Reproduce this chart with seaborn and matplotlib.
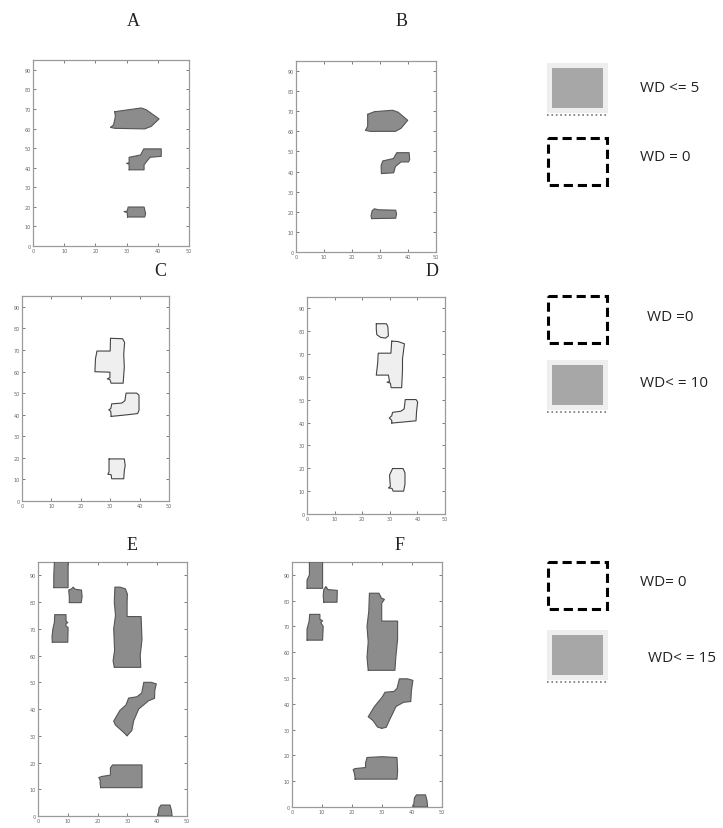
import matplotlib
matplotlib.use("Agg")
import matplotlib.pyplot as plt
from matplotlib.patches import Rectangle
import seaborn as sns

# panel titles and legend texts
panel_names = ["A", "B", "C", "D", "E", "F"]
legend_labels = ["WD <= 5", "WD = 0", "WD =0", "WD< = 10", "WD= 0", "WD< = 15"]

# region outlines (x, y)
a_blob = [(26.2, 68.6), (34.7, 70.5), (36.3, 69.6), (40.4, 64.9), (37.9, 61.1), (35.8, 59.8),
          (26.2, 60.1), (24.8, 60.6), (25.8, 61.8), (26.4, 66)]
a_step = [(30.8, 38.9), (35.6, 38.9), (35.6, 41.5), (37.5, 45.3), (41.1, 45.8), (41.1, 49.6),
          (35.5, 49.6), (34.5, 46.5), (30.8, 45.3), (30.8, 42.5), (30.0, 42.2), (30.8, 41.8)]
a_small = [(30.3, 14.8), (35.8, 14.8), (36.1, 16.5), (35.6, 19.9), (30.5, 19.9), (30.2, 17.8),
           (29.2, 17.6), (30.2, 17.0)]

b_blob = [(25.6, 68.5), (28, 69.8), (34.5, 70.5), (36.5, 69.5), (39.9, 65.5), (37.5, 61.5),
          (35.5, 60.0), (26.5, 60.0), (24.8, 60.5), (25.6, 62.5)]
b_step = [(30.5, 39), (34.9, 39.4), (35.5, 42.5), (37.5, 44.8), (40.2, 44.8), (40.6, 46),
          (40.4, 49.4), (36, 49.4), (34.8, 46.5), (31, 45.3), (30.4, 43)]
b_small = [(27, 16.6), (35.6, 16.8), (35.9, 19), (35.6, 20.8), (29.5, 21.0), (28, 21.5),
           (27.2, 20.5), (26.8, 18)]

c_tall = [(30.1, 75.4), (34.2, 75.2), (34.9, 73.5), (34.6, 68), (34.8, 62), (34.4, 54.6),
          (30.3, 54.6), (29.9, 56.3), (29.0, 56.6), (29.9, 57.2), (29.9, 59.7), (24.8, 59.9),
          (25.0, 66), (25.5, 69.5), (30.0, 69.5)]
c_step = [(30.3, 39.2), (34.7, 39.8), (39.3, 40.5), (39.8, 42), (39.8, 49), (39, 50),
          (35.4, 50), (35, 46.5), (34, 45.4), (30.5, 45), (30.2, 42.8), (29.5, 42.3), (30.2, 41.5)]
c_small = [(29.6, 19.5), (34.8, 19.5), (35.1, 16.5), (34.8, 14), (34.6, 10.3), (30.5, 10.3),
           (30.3, 12.2), (29.2, 12.4), (29.6, 13.5)]

d_top = [(25.1, 83.3), (28.8, 83.3), (29.3, 82), (29.5, 78), (28.5, 77.0), (26.7, 77.3),
         (25.3, 78.5), (25.1, 81)]
d_tall = [(30.7, 75.7), (33, 75.5), (35.3, 74.5), (34.6, 68), (34.6, 63), (34.3, 55.3),
          (30.5, 55.3), (30.2, 57.3), (29, 57.7), (29.9, 58), (29.5, 60.8), (25.1, 60.8),
          (25.6, 66), (25.8, 70.4), (30.4, 70.4)]
d_step = [(30.7, 39.8), (35.2, 40.3), (39.5, 40.8), (39.7, 45), (40.1, 49), (39.5, 50.1),
          (35.6, 50.1), (35.2, 46), (34, 45), (31, 44.5), (30.7, 43), (29.8, 42), (30.7, 41)]
d_small = [(31, 19.9), (34.8, 19.9), (35.5, 18), (35.5, 13), (35, 10), (31.2, 10),
           (30.8, 11.2), (29.5, 11.4), (30.2, 12), (29.9, 17)]

e_corner = [(5.3, 85.4), (10.1, 85.4), (10.1, 95), (5.5, 95), (5.3, 90)]
e_notch = [(10.5, 79.8), (14.5, 79.8), (14.8, 82), (14.6, 84.5), (12.5, 84.8), (11.8, 85.6),
           (11.3, 85), (10.3, 84.5), (10.5, 82)]
e_left = [(4.8, 65), (10, 65), (10.1, 70.5), (9.4, 71), (9.4, 72), (10, 72.3), (9.4, 73),
          (9.4, 75.3), (5.6, 75.3), (5.5, 72.5), (5.0, 70), (4.7, 67)]
e_tall = [(25.6, 55.6), (34.5, 55.6), (34.3, 60), (34.9, 66), (34.6, 74.6), (29.9, 74.6),
          (29.9, 80), (30.0, 83), (29.3, 85), (27.5, 85.6), (25.8, 85.6), (25.6, 80), (26, 75),
          (25.4, 70), (25.7, 62), (25.2, 58)]
e_diag = [(29.9, 30), (31.5, 32), (32.1, 35.6), (33.8, 40), (37.1, 43.1), (39.1, 44),
          (39.2, 47), (39.7, 49.4), (38, 50), (35.5, 50), (34.8, 46), (33.2, 44.6), (30.4, 44.1),
          (29.5, 41.5), (27.5, 39.5), (25.4, 35.5), (26, 34), (28.5, 31.5)]
e_low = [(21.0, 10.6), (34.9, 10.6), (34.9, 19.1), (25, 19.1), (24.3, 18), (24.3, 15.3),
         (21.5, 14.8), (20.4, 14.4), (21, 13), (20.8, 12.5), (21, 11)]
e_edge = [(40.3, 0), (45, 0), (44.8, 2), (44.3, 4.1), (41.3, 4.1), (40.6, 3)]

f_corner = [(5.0, 84.8), (10.2, 84.8), (10.2, 95), (5.8, 95), (5.8, 90), (5, 88)]
f_notch = [(10.6, 79.4), (15, 79.4), (15.1, 84), (12, 84.3), (11.3, 85.5), (10.6, 84.3), (10.4, 82)]
f_left = [(5, 64.7), (10.2, 64.7), (10.4, 70), (9.6, 71.5), (10.2, 72.2), (9.3, 72.8),
          (9.3, 74.7), (5.9, 74.7), (5.7, 72), (5, 69)]
f_tall = [(25.4, 53), (34.3, 53), (34.6, 58), (35.2, 65), (35.2, 72.1), (29.9, 72.1),
          (29.9, 79), (30.8, 80.5), (29.8, 81), (29, 82.9), (25.8, 82.9), (25.6, 76), (25, 70),
          (25.4, 64), (25, 58)]
f_diag = [(29.9, 30.5), (31.4, 30.9), (32.7, 34.2), (34.7, 39), (37.2, 40.6), (39.6, 40.9),
          (39.8, 45), (40.3, 49.1), (38.5, 49.7), (35.8, 49.7), (35, 46), (34, 44.8), (31, 44.5),
          (30, 42.5), (27.5, 39), (25.4, 35), (27, 33.5), (28.5, 31)]
f_low = [(21, 10.8), (35, 10.8), (35.2, 14), (35, 19.2), (30, 19.5), (25, 19.2), (24.5, 17),
         (24.5, 15.3), (21, 14.9), (20.4, 14.5), (20.8, 13), (21, 11.5)]
f_edge = [(40.5, 0), (45.2, 0), (45, 2.5), (44.5, 4.7), (41.5, 4.7), (40.8, 3.5)]

x_ticks = [0, 10, 20, 30, 40, 50]
y_ticks = [0, 10, 20, 30, 40, 50, 60, 70, 80, 90]

sns.set_theme(style="ticks")

W, H = 723, 829
fig = plt.figure(figsize=(W / 100, H / 100), dpi=100)


def px_axes(left, top, right, bottom, **kw):
    return fig.add_axes([left / W, 1 - bottom / H, (right - left) / W, (bottom - top) / H], **kw)


dark = dict(face="#8c8c8c", edge="#555555")
light = dict(face="#efefef", edge="#444444")

panels = [
    ("A", (33, 61, 189, 247), (133, 22), [a_blob, a_step, a_small], dark),
    ("B", (296, 62, 436, 253), (402, 22), [b_blob, b_step, b_small], dark),
    ("C", (22, 297, 169, 502), (160, 272), [c_tall, c_step, c_small], light),
    ("D", (307, 298, 445, 515), (432, 272), [d_top, d_tall, d_step, d_small], light),
    ("E", (38, 563, 187, 817), (132, 545), [e_corner, e_notch, e_left, e_tall, e_diag, e_low, e_edge], dark),
    ("F", (292, 563, 442, 808), (400, 545), [f_corner, f_notch, f_left, f_tall, f_diag, f_low, f_edge], dark),
]

for name, box, title_xy, shapes, col in panels:
    ax = px_axes(*box)
    for shp in shapes:
        xs = [p[0] for p in shp] + [shp[0][0]]
        ys = [p[1] for p in shp] + [shp[0][1]]
        ax.fill(xs, ys, facecolor=col["face"], edgecolor="none", zorder=2)
        sns.lineplot(x=xs, y=ys, sort=False, estimator=None, color=col["edge"],
                     linewidth=0.8, ax=ax, zorder=3)
    ax.set_xlim(0, 50)
    ax.set_ylim(0, 95)
    ax.set_xticks(x_ticks)
    ax.set_yticks(y_ticks)
    ax.tick_params(direction="in", length=2, width=0.6, colors="#666666", labelsize=3.5,
                   top=True, right=True, pad=1.5)
    for s in ax.spines.values():
        s.set_color("#9a9a9a")
        s.set_linewidth(0.9)
    fig.text(title_xy[0] / W, 1 - title_xy[1] / H, name, ha="center", va="center",
             fontsize=13, family="Liberation Serif", color="#222222")

# legend drawn on a full-figure overlay
lg = fig.add_axes([0, 0, 1, 1])
lg.set_xlim(0, W)
lg.set_ylim(H, 0)
lg.axis("off")


def gray_box(top):
    lg.add_patch(Rectangle((547, top), 61, 50, facecolor="#eeeeee", edgecolor="none"))
    lg.add_patch(Rectangle((552, top + 5), 51, 40, facecolor="#a7a7a7", edgecolor="none"))
    lg.plot([547, 608], [top + 52, top + 52], color="#777777", linestyle=":", linewidth=1.2)


def dash_box(top):
    lg.add_patch(Rectangle((548, top), 59, 47, facecolor="none", edgecolor="black",
                           linewidth=2.2, linestyle=(0, (3, 1.6))))


gray_box(64)
dash_box(139)
dash_box(297)
gray_box(361)
dash_box(563)
gray_box(631)

label_pos = [(640, 88), (640, 157), (647, 317), (640, 383), (640, 583), (648, 658)]
for (lx, ly), txt in zip(label_pos, legend_labels):
    lg.text(lx, ly, txt, ha="left", va="center", fontsize=11, family="Open Sans", color="#222222")

fig.savefig("out.png", dpi=100)
